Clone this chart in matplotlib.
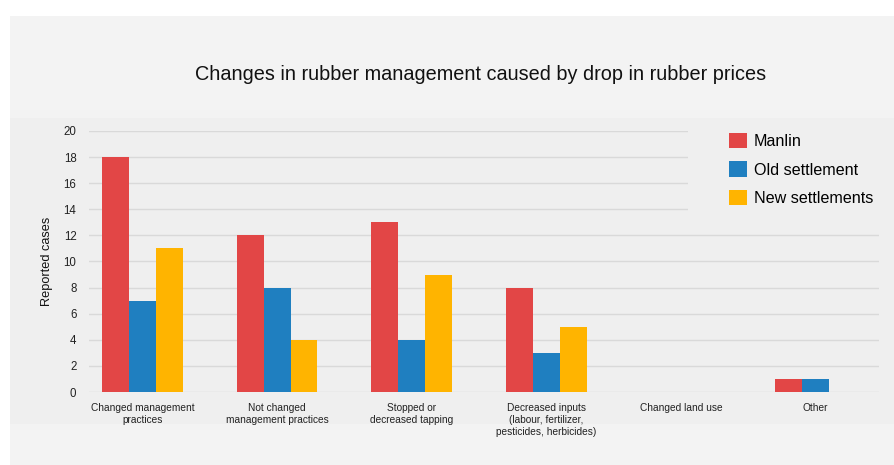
import numpy as np
import matplotlib
matplotlib.use("Agg")
import matplotlib.pyplot as plt
from matplotlib.patches import Rectangle

plt.rcParams["font.family"] = ["Liberation Sans", "DejaVu Sans"]

# ---- Data ----
categories = [
    "Changed management\npractices",
    "Not changed\nmanagement practices",
    "Stopped or\ndecreased tapping",
    "Decreased inputs\n(labour, fertilizer,\npesticides, herbicides)",
    "Changed land use",
    "Other",
]
manlin = [18, 12, 13, 8, 0, 1]
old_settlement = [7, 8, 4, 3, 0, 1]
new_settlements = [11, 4, 9, 5, 0, 0]
series_names = ["Manlin", "Old settlement", "New settlements"]
y_ticks = list(range(0, 21, 2))

# ---- Style ----
COLORS = ["#e24646", "#1f7fc0", "#ffb400"]
PANEL = "#f3f3f3"
BAND = "#efefef"
GRID = "#d9d9d9"
W, H = 894, 465

fig = plt.figure(figsize=(W / 100, H / 100), dpi=100)
fig.patch.set_facecolor("white")

# background panels (title strip + plot band)
fig.patches.append(Rectangle((10 / W, 0), 1, (H - 16) / H, transform=fig.transFigure,
                             facecolor=PANEL, edgecolor="none", zorder=-2))
fig.patches.append(Rectangle((10 / W, (H - 424) / H), 1, (424 - 118) / H,
                             transform=fig.transFigure, facecolor=BAND,
                             edgecolor="none", zorder=-1))

ax_h = 392 - 131
ax = fig.add_axes([89 / W, (H - 392) / H, 790 / W, ax_h / H])
ax.set_facecolor("none")

x = np.arange(len(categories))
bw = 0.2
for i, (vals, name) in enumerate(zip([manlin, old_settlement, new_settlements], series_names)):
    ax.bar(x + (i - 1) * bw, vals, width=bw, color=COLORS[i], label=name,
           edgecolor="none", zorder=2)

ax.set_xlim(-0.397, 5.472)
ax.set_ylim(0, 20)
ax.set_yticks(y_ticks)
ax.set_xticks(x)
ax.set_xticklabels(categories, fontsize=7.3, color="#222222", linespacing=1.22)
ax.tick_params(axis="y", labelsize=8.3, labelcolor="#222222", length=0, pad=9)
ax.tick_params(axis="x", length=0, pad=8)
ax.set_axisbelow(True)
ax.yaxis.grid(True, color=GRID, linewidth=1.0)
for s in ax.spines.values():
    s.set_visible(False)

ax.set_ylabel("Reported cases", fontsize=9.2, color="#111111", labelpad=8)

# legend area sits on top of the upper grid lines
ax.add_patch(Rectangle(((688 - 89) / 790, (392 - 215) / ax_h), (894 - 688) / 790,
                       (215 - 118) / ax_h, transform=ax.transAxes, facecolor=BAND,
                       edgecolor="none", zorder=1, clip_on=False))

fig.legend(loc="upper left", bbox_to_anchor=(729 / W, (H - 133) / H),
           frameon=False, fontsize=11.6, handlelength=1.1, handleheight=1.1,
           handletextpad=0.45, labelspacing=0.75, borderpad=0, borderaxespad=0)

fig.text(481 / W, (H - 74) / H,
         "Changes in rubber management caused by drop in rubber prices",
         ha="center", va="center", fontsize=14.3, color="#111111")

fig.savefig("out.png", dpi=100, facecolor=fig.get_facecolor())
